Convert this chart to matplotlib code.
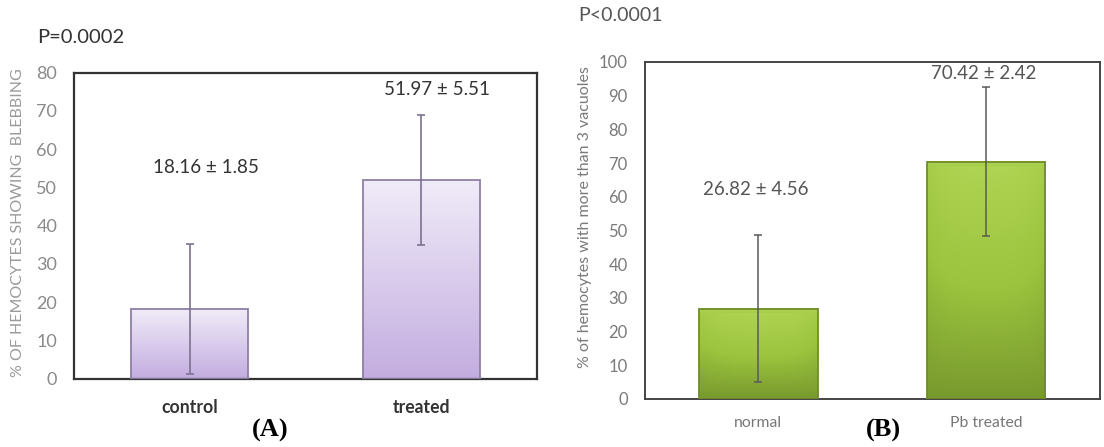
import numpy as np
import matplotlib.pyplot as plt
from matplotlib.colors import LinearSegmentedColormap

# Panel A: membrane blebbing
groups_a = ['control', 'treated']
means_a = [18.16, 51.97]
sem_a = [1.85, 5.51]
err_a = [16.9, 17.0]
p_a = 'P=0.0002'

# Panel B: vacuolization
groups_b = ['normal', 'Pb treated']
means_b = [26.82, 70.42]
sem_b = [4.56, 2.42]
err_b = [21.8, 22.2]
p_b = 'P<0.0001'

plt.rcParams['font.family'] = ['Lato', 'DejaVu Sans']

fig = plt.figure(figsize=(11.04, 4.47), dpi=100)
ax_a = fig.add_axes([0.067, 0.1532, 0.4194, 0.6846])
ax_b = fig.add_axes([0.5838, 0.1074, 0.4126, 0.754])

lavender = LinearSegmentedColormap.from_list('lav', ['#c3ade0', '#f0ebf8'])
green = LinearSegmentedColormap.from_list('grn', ['#6f8f2a', '#9cc43e', '#b2d656'])


def gradient_bars(ax, x, heights, width, cmap, edge, bevel=False):
    for xi, h in zip(x, heights):
        grad = np.linspace(0, 1, 200).reshape(-1, 1)
        if bevel:
            # darker towards the sides to give a rounded look
            side = 1 - 0.25 * np.abs(np.linspace(-1, 1, 60)) ** 3
            grad = grad * 0.85 * side[None, :] + 0.1
        ax.imshow(grad, extent=[xi - width / 2, xi + width / 2, 0, h],
                  origin='lower', aspect='auto', cmap=cmap, vmin=0, vmax=1,
                  zorder=2, interpolation='bilinear')
        if bevel:
            ax.imshow(np.linspace(0.75, 1, 10).reshape(-1, 1),
                      extent=[xi - width / 2, xi + width / 2, h - 1.2, h],
                      origin='lower', aspect='auto', cmap=cmap, vmin=0, vmax=1,
                      zorder=2.1)
        ax.bar(xi, h, width=width, facecolor='none', edgecolor=edge,
               linewidth=1.3, zorder=3)


xa = np.arange(len(groups_a))
gradient_bars(ax_a, xa, means_a, 0.505, lavender, '#8d7fa5')
ax_a.errorbar(xa, means_a, yerr=err_a, fmt='none', ecolor='#7d7190',
              elinewidth=1.2, capsize=3, capthick=1.2, zorder=4)
ax_a.set_xlim(-0.5, 1.5)
ax_a.set_ylim(0, 80)
ax_a.set_yticks(range(0, 81, 10))
ax_a.set_xticks(xa)
ax_a.set_xticklabels(groups_a, fontsize=12.7, fontweight='bold', color='#333333')
ax_a.tick_params(axis='y', length=0, pad=12, labelsize=13, labelcolor='#8a8a8a')
ax_a.tick_params(axis='x', length=0, pad=15)
for s in ax_a.spines.values():
    s.set_color('#333333')
    s.set_linewidth(1.6)
for xi, m, s in zip(xa, means_a, sem_a):
    y_lab = m + 37 if xi == 0 else m + 23.7
    ax_a.text(xi + 0.07, y_lab, f'{m:.2f} \u00b1 {s:.2f}', ha='center',
              va='center', fontsize=13.5, color='#333333', zorder=5)
ax_a.set_ylabel('% OF HEMOCYTES SHOWING  BLEBBING', fontsize=11.5,
                color='#9a9a9a')
ax_a.yaxis.set_label_coords(-0.105, 0.508)

xb = np.arange(len(groups_b))
gradient_bars(ax_b, xb, means_b, 0.52, green, '#6f8c2c', bevel=True)
ax_b.errorbar(xb, means_b, yerr=err_b, fmt='none', ecolor='#5a5a5a',
              elinewidth=1.1, capsize=3, capthick=1.1, zorder=4)
ax_b.set_xlim(-0.5, 1.5)
ax_b.set_ylim(0, 100)
ax_b.set_yticks(range(0, 101, 10))
ax_b.set_xticks(xb)
ax_b.set_xticklabels(groups_b, fontsize=11.3, color='#777777')
ax_b.tick_params(axis='y', length=0, pad=12, labelsize=12, labelcolor='#7a7a7a')
ax_b.tick_params(axis='x', length=0, pad=12)
for s in ax_b.spines.values():
    s.set_color('#444444')
    s.set_linewidth(1.4)
for xi, m, s in zip(xb, means_b, sem_b):
    y_lab = m + 35.2 if xi == 0 else m + 26.2
    ax_b.text(xi - 0.01, y_lab, f'{m:.2f} \u00b1 {s:.2f}', ha='center',
              va='center', fontsize=13.5, color='#555555', zorder=5)
ax_b.set_ylabel('% of hemocytes with more than 3 vacuoles', fontsize=11.5,
                color='#7a7a7a')
ax_b.yaxis.set_label_coords(-0.115, 0.54)

fig.text(0.034, 0.917, p_a, fontsize=14.5, color='#333333', va='center')
fig.text(0.524, 0.966, p_b, fontsize=14, color='#555555', va='center')
fig.text(0.245, 0.038, '(A)', fontsize=19, fontweight='bold', ha='center',
         va='center', family='Liberation Serif')
fig.text(0.800, 0.038, '(B)', fontsize=19, fontweight='bold', ha='center',
         va='center', family='Liberation Serif')

fig.savefig('out.png', dpi=100)
